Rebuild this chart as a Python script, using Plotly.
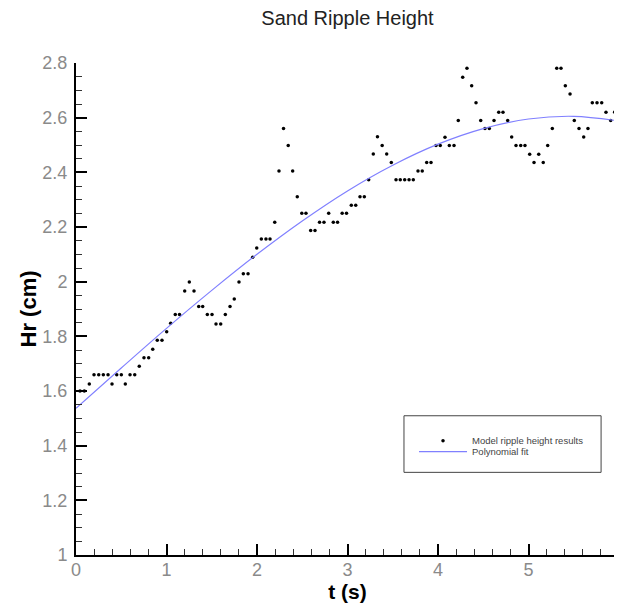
import plotly.graph_objects as go

# Model ripple height results
t_s = [
    0.044, 0.092, 0.147, 0.199, 0.251, 0.302, 0.354, 0.398, 0.450, 0.501,
    0.545, 0.597, 0.649, 0.699, 0.751, 0.803, 0.848, 0.898, 0.950, 1.002,
    1.046, 1.097, 1.144, 1.201, 1.252, 1.304, 1.356, 1.400, 1.451, 1.503,
    1.547, 1.599, 1.650, 1.702, 1.749, 1.801, 1.849, 1.901, 1.952, 1.997,
    2.048, 2.099, 2.144, 2.196, 2.243, 2.293, 2.345, 2.394, 2.445, 2.495,
    2.541, 2.593, 2.641, 2.691, 2.740, 2.792, 2.843, 2.890, 2.941, 2.989,
    3.042, 3.091, 3.138, 3.186, 3.234, 3.285, 3.331, 3.383, 3.433, 3.484,
    3.536, 3.583, 3.632, 3.680, 3.727, 3.779, 3.826, 3.875, 3.923, 3.978,
    4.025, 4.077, 4.125, 4.177, 4.224, 4.273, 4.320, 4.372, 4.420, 4.472,
    4.519, 4.567, 4.619, 4.671, 4.718, 4.770, 4.814, 4.862, 4.914, 4.961,
    5.013, 5.061, 5.113, 5.163, 5.212, 5.263, 5.312, 5.359, 5.407, 5.459,
    5.506, 5.558, 5.610, 5.657, 5.705, 5.757, 5.809, 5.856, 5.908, 5.952,
    6.000,
]
hr_cm = [
    1.600, 1.600, 1.626, 1.659, 1.659, 1.659, 1.659, 1.626, 1.659, 1.659,
    1.626, 1.659, 1.659, 1.691, 1.722, 1.722, 1.753, 1.786, 1.786, 1.817,
    1.848, 1.880, 1.880, 1.966, 1.999, 1.966, 1.909, 1.909, 1.880, 1.880,
    1.845, 1.845, 1.880, 1.909, 1.937, 1.999, 2.029, 2.029, 2.089, 2.123,
    2.156, 2.156, 2.156, 2.217, 2.405, 2.560, 2.498, 2.405, 2.311, 2.250,
    2.250, 2.187, 2.187, 2.217, 2.217, 2.250, 2.217, 2.217, 2.250, 2.250,
    2.280, 2.280, 2.311, 2.311, 2.373, 2.467, 2.530, 2.498, 2.467, 2.436,
    2.373, 2.373, 2.373, 2.373, 2.373, 2.405, 2.405, 2.436, 2.436, 2.498,
    2.498, 2.528, 2.498, 2.498, 2.590, 2.748, 2.781, 2.717, 2.655, 2.590,
    2.560, 2.560, 2.590, 2.620, 2.620, 2.590, 2.529, 2.498, 2.498, 2.498,
    2.466, 2.436, 2.466, 2.436, 2.498, 2.560, 2.781, 2.781, 2.717, 2.687,
    2.590, 2.560, 2.529, 2.560, 2.655, 2.655, 2.655, 2.620, 2.590, 2.620,
    2.590,
]

# Polynomial fit curve
fit_t = [0.0, 0.5, 1.0, 1.5, 2.0, 2.5, 3.0, 3.5, 4.0, 4.5, 5.0, 5.5, 6.0]
fit_hr = [1.537, 1.684, 1.829, 1.968, 2.100, 2.222, 2.332, 2.426, 2.503,
          2.560, 2.595, 2.605, 2.588]

FONT = "Liberation Sans, Arial, Helvetica, sans-serif"

fig = go.Figure()
fig.add_trace(go.Scatter(
    x=t_s, y=hr_cm, mode="markers", name="Model ripple height results",
    marker=dict(color="black", size=3.5), legend="legend",
))
fig.add_trace(go.Scatter(
    x=fit_t, y=fit_hr, mode="lines", name="Polynomial fit",
    line=dict(color="rgb(128,128,255)", width=1.2, shape="spline"),
    legend="legend2",
))

axis_common = dict(
    showgrid=False, zeroline=False, showline=True, linecolor="black",
    linewidth=2, ticks="inside", ticklen=11, tickwidth=2, tickcolor="black",
    tickfont=dict(family=FONT, size=18, color="#8a8a8a"),
    mirror=False, automargin=False, ticklabeloverflow="allow",
)

leg_common = dict(xanchor="left", yanchor="middle", itemwidth=48,
                  bgcolor="rgba(0,0,0,0)", borderwidth=0,
                  font=dict(family=FONT, size=9.5, color="#444"))

# The page adds an 8px body margin, so the figure is offset by 8px.
fig.update_layout(
    width=622, height=597,
    margin=dict(l=68, r=11, t=55, b=50, autoexpand=False),
    paper_bgcolor="white", plot_bgcolor="white",
    font=dict(family=FONT),
    title=dict(text="Sand Ripple Height", x=0.5, xref="paper", xanchor="center",
               y=1 - 10 / 597, yref="container", yanchor="middle",
               font=dict(family=FONT, size=20, color="#222")),
    xaxis=dict(range=[0, 6], tick0=0, dtick=1, ticklabelstandoff=-3,
               title=dict(text="t (s)", standoff=0,
                          font=dict(family=FONT, size=21, color="black", weight="bold")),
               minor=dict(ticks="inside", ticklen=6, tickwidth=1, tickcolor="#333",
                          dtick=0.2, showgrid=False),
               **axis_common),
    yaxis=dict(range=[1, 2.8], tick0=1, dtick=0.2, ticklabelstandoff=3,
               title=dict(text="Hr (cm)", standoff=0,
                          font=dict(family=FONT, size=22, color="black", weight="bold")),
               minor=dict(ticks="inside", ticklen=6, tickwidth=1, tickcolor="#333",
                          dtick=0.05, showgrid=False),
               **axis_common),
    legend=dict(x=0.6225, y=0.2323, **leg_common),
    legend2=dict(x=0.6225, y=0.21, **leg_common),
    shapes=[dict(type="rect", xref="paper", yref="paper",
                 x0=0.604, x1=0.967, y0=0.168, y1=0.283,
                 line=dict(color="#444", width=1), fillcolor="rgba(0,0,0,0)")],
    showlegend=True,
)

fig.write_html("out.html", config={"displayModeBar": False})
